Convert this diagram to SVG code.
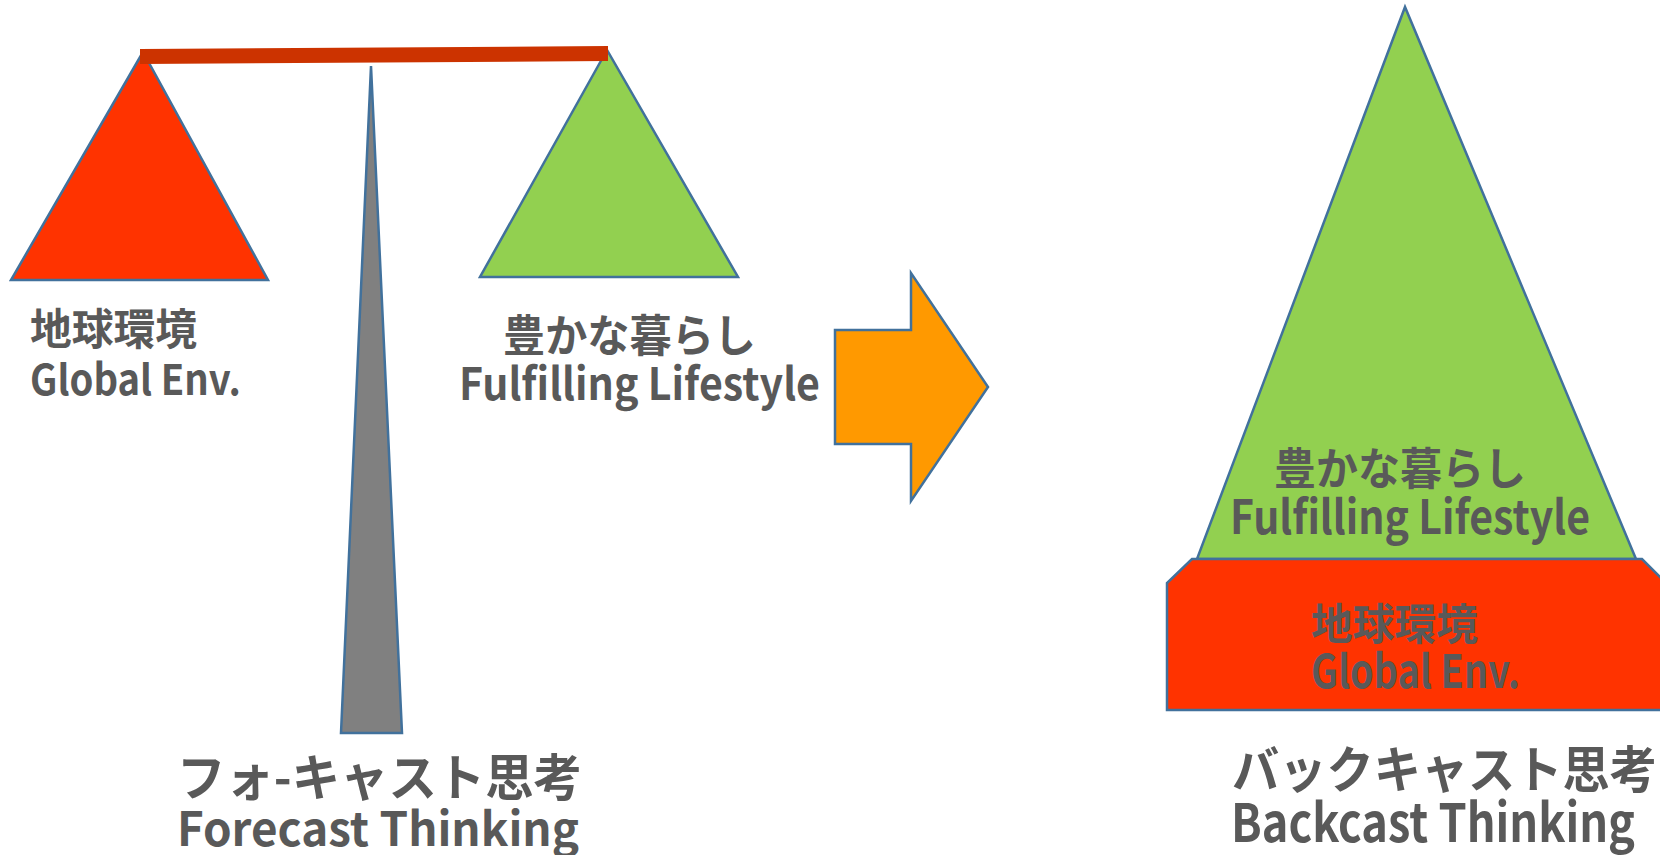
<svg xmlns="http://www.w3.org/2000/svg" width="1660" height="855" viewBox="0 0 1660 855">
<style>
.sh{stroke:#41719C;stroke-width:2.5;stroke-linejoin:miter}
.t{font-family:"Noto Sans CJK JP","Noto Sans",sans-serif;font-weight:700;fill:#595959}
</style>
<rect width="1660" height="855" fill="#ffffff"/>
<g id="left-weight">
<polygon class="sh" points="143,52 11,280 268,280" fill="#FF3300"/>
</g>
<g id="right-weight">
<polygon class="sh" points="607,50 480,277 738,277" fill="#92D050"/>
</g>
<g id="beam">
<polygon points="140,49 608,46 608,61 140,64" fill="#CC3300"/>
</g>
<g id="pole">
<polygon class="sh" points="371,66 341,733 402,733" fill="#808080" stroke-width="2"/>
</g>
<g id="label-global-left">
<text class="t" x="30" y="345" font-size="43" textLength="167" lengthAdjust="spacingAndGlyphs">地球環境</text>
<text class="t" x="30" y="395" font-size="42" textLength="211" lengthAdjust="spacingAndGlyphs">Global Env.</text>
</g>
<g id="label-life-left">
<text class="t" x="503" y="352" font-size="44" textLength="253" lengthAdjust="spacingAndGlyphs">豊かな暮らし</text>
<text class="t" x="459" y="400" font-size="45" textLength="361" lengthAdjust="spacingAndGlyphs">Fulfilling Lifestyle</text>
</g>
<g id="arrow">
<polygon class="sh" points="835,330 911,330 911,273 988,387 911,501 911,444 835,444" fill="#FF9900"/>
</g>
<g id="big-triangle">
<polygon class="sh" points="1405,7 1197,559 1636,559" fill="#92D050"/>
<text class="t" x="1274" y="485" font-size="44" textLength="252" lengthAdjust="spacingAndGlyphs">豊かな暮らし</text>
<text class="t" x="1230" y="534" font-size="47" textLength="360" lengthAdjust="spacingAndGlyphs">Fulfilling Lifestyle</text>
</g>
<g id="base-block">
<polygon class="sh" points="1192,559 1642,559 1666,583 1666,710 1167,710 1167,583" fill="#FF3300"/>
<text class="t" x="1311" y="640" font-size="43" textLength="167" lengthAdjust="spacingAndGlyphs">地球環境</text>
<text class="t" x="1311" y="688" font-size="46" textLength="209" lengthAdjust="spacingAndGlyphs">Global Env.</text>
</g>
<g id="forecast-title">
<text class="t" x="177" y="796" font-size="50" textLength="405" lengthAdjust="spacingAndGlyphs">フォ-キャスト思考</text>
<text class="t" x="177" y="846" font-size="47" textLength="402" lengthAdjust="spacingAndGlyphs">Forecast Thinking</text>
</g>
<g id="backcast-title">
<text class="t" x="1232" y="788" font-size="50" textLength="425" lengthAdjust="spacingAndGlyphs">バックキャスト思考</text>
<text class="t" x="1231" y="842" font-size="53" textLength="404" lengthAdjust="spacingAndGlyphs">Backcast Thinking</text>
</g>
<g id="connectors"></g>
</svg>
